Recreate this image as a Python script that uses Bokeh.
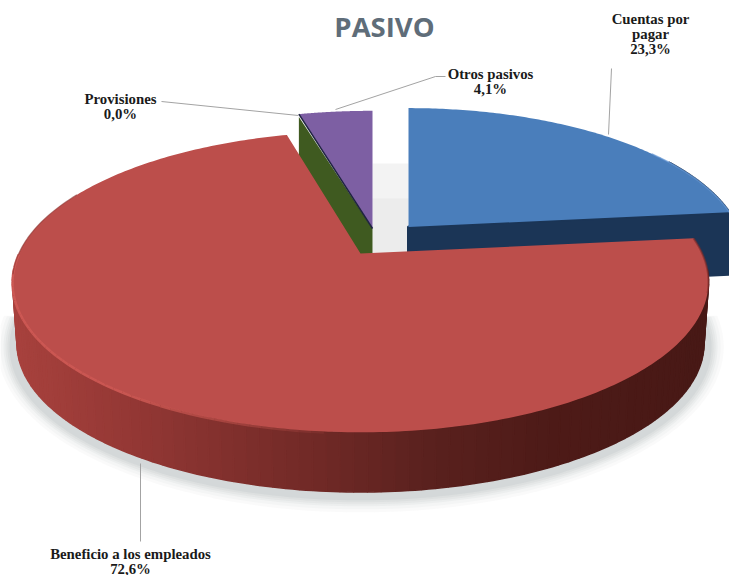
import numpy as np
from bokeh.core.properties import value
from bokeh.embed import file_html
from bokeh.models import ColumnDataSource, Range1d
from bokeh.plotting import figure
from bokeh.resources import INLINE

# ---- chart data -------------------------------------------------------
title = "PASIVO"
categories = ["Cuentas por\npagar", "Beneficio a los empleados", "Provisiones", "Otros pasivos"]
values = [23.3, 72.6, 0.0, 4.1]

# ---- styling / geometry ----------------------------------------------
top_colors = ["#4a7ebb", "#bc4e4b", "#4f6228", "#7d5fa3"]
wall_colors = ["#1b3556", "#7a2e2b", "#3f5a20", "#3f5a20"]
apex = [(408, 226.5), (360, 253), (372, 228), (372, 228)]
scale = [(0.964, 0.975), (1, 1), (1, 0.96), (1, 0.965)]
DEPTH = 62
A, B, K = 341.7, 145.0, 0.189   # tilted disc with perspective

label_xy = [(650, 18), (130, 553), (120, 98), (490, 73)]
leaders = [[(611, 68), (608, 134)], [(140, 463), (140, 541)],
           [(161, 101), (298, 115)], [(335, 109), (435, 76), (445, 76)]]

share = np.array(values) / sum(values) * 360
ends = np.cumsum(share)
starts = ends - share


def rim(i, a0, a1, n=120, dy=0.0, s=1.0):
    th = np.radians(np.linspace(a0, a1, n))
    dx_, dy_ = np.sin(th), np.cos(th)
    den = 1 + K * dy_
    sx, sy = scale[i]
    return (apex[i][0] + s * sx * A * dx_ / den,
            apex[i][1] - s * sy * B * dy_ / den + dy)


p = figure(width=729, height=575, x_range=Range1d(0, 729), y_range=Range1d(575, 0),
           x_axis_type=None, y_axis_type=None, toolbar_location=None,
           output_backend="svg", min_border=0, outline_line_color=None,
           background_fill_color="white", border_fill_color="white")
p.grid.visible = False

# soft shadow underneath the disc
for grow, alpha in zip([15, 12, 9, 7, 5, 3], [.035, .04, .05, .05, .06, .07]):
    x, y = rim(1, 90, 270, 160, dy=DEPTH + 3)
    cx, cy = 358, 281 + DEPTH + 3
    x = cx + (x - cx) * (1 + grow / 345)
    y = cy + (y - cy) * (1 + grow / 150)
    p.patch(x, y, fill_color="#64787a", fill_alpha=alpha, line_color=None)

# faint shade seen through the gap between the pulled-out slices
gap_l, gap_r = apex[3][0], apex[0][0]
p.quad(left=gap_l, right=gap_r, top=apex[3][1] - 65, bottom=apex[1][1],
       fill_color="#f3f3f3", line_color=None)
p.quad(left=gap_l, right=gap_r, top=apex[3][1] - 30, bottom=apex[1][1],
       fill_color="#ececec", line_color=None)

# Cuentas por pagar: wall and top
i = 0
x, y = rim(i, 60, ends[0])
bx, by = rim(i, 60, ends[0], dy=DEPTH)
p.patch(np.r_[x, bx[::-1]], np.r_[y, by[::-1]], fill_color=wall_colors[0],
        line_color=wall_colors[0], line_width=2, line_join="round")
p.patch([apex[0][0], x[-1], bx[-1], apex[0][0]],
        [apex[0][1], y[-1], by[-1], apex[0][1] + DEPTH],
        fill_color=wall_colors[0], line_color=wall_colors[0], line_width=3, line_join="round")
x, y = rim(i, starts[0], ends[0])
p.patch(np.r_[apex[0][0], x], np.r_[apex[0][1], y], fill_color=top_colors[0], line_color=None)
hx, hy = rim(i, 55, ends[0], 40)
p.line(hx, hy, line_color="#6a9ad6", line_width=1.5, line_alpha=.7)

# Provisiones (empty slice): only its dark wall shows, beside Otros pasivos
i = 3
x, y = rim(i, starts[3], ends[3])
p.patch([x[0], apex[3][0], apex[3][0], x[0]],
        [y[0] + 3, apex[3][1], apex[3][1] + DEPTH, y[0] + DEPTH],
        fill_color=wall_colors[2], line_color=None)
p.patch(np.r_[apex[3][0], x], np.r_[apex[3][1], y], fill_color=top_colors[3], line_color=None)
p.line([x[0], apex[3][0]], [y[0], apex[3][1]], line_color="#1f2440", line_width=1.5)

# Beneficio a los empleados: shaded outer wall
stops_x = [12, 60, 130, 250, 330, 430, 550, 710]
stops_rgb = np.array([(168, 66, 62), (160, 62, 58), (148, 56, 53), (125, 47, 44),
                      (110, 41, 38), (90, 33, 30), (78, 27, 24), (72, 25, 22)], float)
i = 1
N = 90
for a0, a1 in zip(np.linspace(96, 264, N)[:-1], np.linspace(96, 264, N)[1:]):
    tx, ty = rim(i, a0, a1, 3)
    bx, by = rim(i, a0, a1, 3, dy=DEPTH, s=0.987)
    mid = tx.mean()
    rgb = [np.interp(mid, stops_x, stops_rgb[:, c]) for c in range(3)]
    col = "#%02x%02x%02x" % tuple(int(c) for c in rgb)
    p.patch(np.r_[tx, bx[::-1]], np.r_[ty, by[::-1]],
            fill_color=col, line_color=col, line_width=1.6)

x, y = rim(i, starts[1], ends[1], 300)
p.patch(np.r_[apex[1][0], x], np.r_[apex[1][1], y], fill_color=top_colors[1], line_color=None)

# bevel highlight on the lit part of the rim
hl = np.linspace(185, 270, 50)
for a0, a1 in zip(hl[:-1], hl[1:]):
    tx, ty = rim(i, a0, a1, 2)
    al = np.clip((a0 - 180) / 35, 0, 1) * .9
    p.line(tx, ty + 1, line_color="#cf5a55", line_width=2.5, line_alpha=float(al))
dx, dy = rim(i, 262, 296, 30)
p.line(dx, dy, line_color="#8c3532", line_width=1.2, line_alpha=.6)
dx, dy = rim(i, ends[0], 105, 30)
p.line(dx, dy, line_color="#7d2c2a", line_width=2, line_alpha=.6)

# leader lines
for pts in leaders:
    xs, ys = zip(*pts)
    p.line(xs, ys, line_color="#a3a3a3", line_width=1)

# data labels
tx, ty, tt = [], [], []
for (lx, ly), cat, val in zip(label_xy, categories, values):
    lines = cat.split("\n") + [f"{val:.1f}%".replace(".", ",")]
    for n, text in enumerate(lines):
        tx.append(lx)
        ty.append(ly + n * 15)
        tt.append(text)
p.text("x", "y", "t", source=ColumnDataSource(dict(x=tx, y=ty, t=tt)),
       text_font=value("Liberation Serif"), text_font_style="bold",
       text_font_size="14.8px", text_color="#1a1a1a",
       text_align="center", text_baseline="middle")

# chart title
p.text([384], [26], [title], text_font=value("Open Sans"), text_font_style="bold",
       text_font_size="27.5px", text_color="#5f6d79",
       text_align="center", text_baseline="middle")

open("out.html", "w").write(file_html(p, INLINE))
